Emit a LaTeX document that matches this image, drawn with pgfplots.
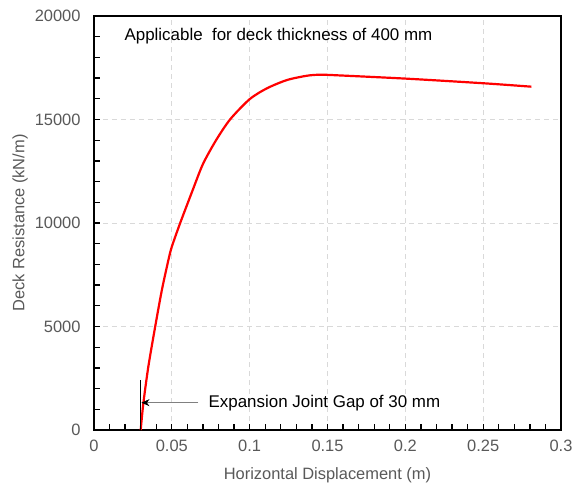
\documentclass[border=0pt]{standalone}
\usepackage{fontspec}
\setmainfont{Liberation Sans}
\usepackage{pgfplots}
\pgfplotsset{compat=1.18}
\usetikzlibrary{arrows.meta,calc}
\definecolor{txtgray}{HTML}{595959}
\definecolor{gridgray}{HTML}{D9D9D9}
\definecolor{arrgray}{HTML}{808080}

\begin{document}
\begin{tikzpicture}
\begin{axis}[
    name=ax,
    scale only axis,
    width=467bp, height=414bp,
    xmin=0, xmax=0.3, ymin=0, ymax=20000,
    scaled ticks=false,
    xtick={0,0.05,0.1,0.15,0.2,0.25,0.3},
    xticklabels={0,0.05,0.1,0.15,0.2,0.25,0.3},
    ytick={0,5000,10000,15000,20000},
    yticklabels={0,5000,10000,15000,20000},
    minor xtick={0,0.01,...,0.3},
    minor ytick={0,1000,...,20000},
    tick align=inside,
    xtick pos=left, ytick pos=left,
    tickwidth=6bp, subtickwidth=6bp,
    axis line style={black, line width=1.3bp},
    xmajorgrids, ymajorgrids,
    major grid style={gridgray, dash pattern=on 5bp off 4bp, line width=0.9bp},
    ticklabel style={font=\fontsize{16.5}{19}\selectfont, text=txtgray},
    yticklabel style={xshift=-10bp},
    xticklabel style={yshift=-7bp},
    xlabel={Horizontal Displacement (m)},
    ylabel={Deck Resistance (kN/m)},
    label style={font=\fontsize{16.5}{19}\selectfont, text=txtgray},
    xlabel style={at={(axis description cs:0.5,-0.109)}, anchor=center},
    ylabel style={at={(axis description cs:-0.158,0.5)}, anchor=center},
    every tick/.style={black, line width=1.3bp},
]
\addplot[red, line width=2.2bp, smooth, tension=0.45] coordinates {
    (0.0300,0) (0.0317,1290) (0.0349,3058) (0.0393,4990) (0.0436,6763)
    (0.0478,8213) (0.0500,8855) (0.0553,9985) (0.0632,11550) (0.0700,12850)
    (0.0785,14010) (0.0875,15010) (0.0999,15976) (0.1111,16507) (0.1240,16908)
    (0.1369,17116) (0.1454,17164) (0.1562,17135) (0.2012,16971) (0.2505,16749)
    (0.2810,16585)
};
\addplot[black, line width=1.6bp] coordinates {(0.03,0) (0.03,2420)};
\draw[arrgray, line width=0.9bp, -{Stealth[black, length=8bp, width=7bp]}]
    (axis cs:0.067,1320) -- (axis cs:0.0305,1320);
\node[anchor=west, font=\fontsize{17}{20}\selectfont, inner sep=0pt]
    at (axis cs:0.0735,1320) {Expansion Joint Gap of 30 mm};
\node[anchor=west, font=\fontsize{17}{20}\selectfont, inner sep=0pt]
    at (axis cs:0.0195,19030) {Applicable\ \ for deck thickness of 400 mm};
\end{axis}
\pgfresetboundingbox
\path[use as bounding box] ($(ax.south west)+(-94bp,-60bp)$) rectangle ($(ax.north east)+(11bp,16bp)$);
\end{tikzpicture}
\end{document}
